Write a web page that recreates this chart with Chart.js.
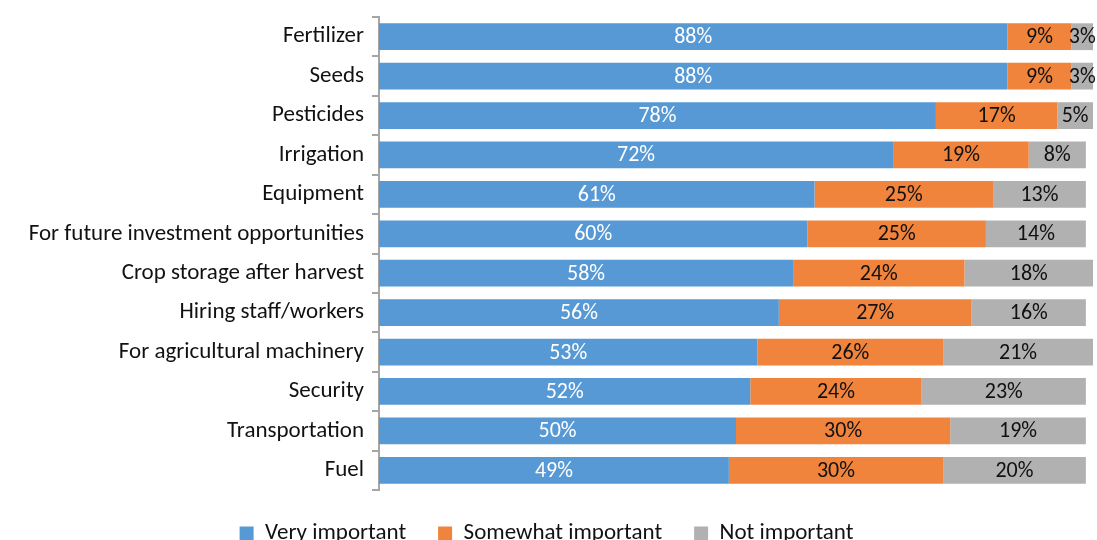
<!DOCTYPE html>
<html>
<head>
<meta charset="utf-8">
<script src="https://cdn.jsdelivr.net/npm/chart.js@4"></script>
<style>
  html, body { margin: 0; padding: 0; background: #fff; overflow: hidden; }
  #wrap { width: 1097px; height: 555px; }
</style>
</head>
<body>
<div id="wrap"><canvas id="needsChart"></canvas></div>
<script>
const categories = [
  "Fertilizer",
  "Seeds",
  "Pesticides",
  "Irrigation",
  "Equipment",
  "For future investment opportunities",
  "Crop storage after harvest",
  "Hiring staff/workers",
  "For agricultural machinery",
  "Security",
  "Transportation",
  "Fuel",
];
const veryImportant = [88, 88, 78, 72, 61, 60, 58, 56, 53, 52, 50, 49];
const somewhatImportant = [9, 9, 17, 19, 25, 25, 24, 27, 26, 24, 30, 30];
const notImportant = [3, 3, 5, 8, 13, 14, 18, 16, 21, 23, 19, 20];

const FONT = "Carlito, Lato, 'Open Sans', sans-serif";

// writes each segment's value in the middle of its bar
const segmentLabels = {
  id: "segmentLabels",
  afterDatasetsDraw(chart) {
    const ctx = chart.ctx;
    ctx.save();
    ctx.font = "22px " + FONT;
    ctx.textAlign = "center";
    ctx.textBaseline = "middle";
    chart.data.datasets.forEach((ds, i) => {
      const meta = chart.getDatasetMeta(i);
      meta.data.forEach((bar, j) => {
        const x = (bar.x + bar.base) / 2;
        ctx.fillStyle = i === 0 ? "#ffffff" : "#111111";
        ctx.fillText(ds.data[j] + "%", x, bar.y + 1);
      });
    });
    ctx.restore();
  },
};

new Chart(document.getElementById("needsChart"), {
  type: "bar",
  data: {
    labels: categories,
    datasets: [
      { label: "Very important", data: veryImportant, backgroundColor: "#5799d4" },
      { label: "Somewhat important", data: somewhatImportant, backgroundColor: "#f0843d" },
      { label: "Not important", data: notImportant, backgroundColor: "#b1b1b2" },
    ],
  },
  plugins: [segmentLabels],
  options: {
    indexAxis: "y",
    responsive: true,
    maintainAspectRatio: false,
    animation: false,
    layout: { padding: { top: 17, right: 4, left: 0, bottom: 0 } },
    datasets: {
      bar: { categoryPercentage: 1, barPercentage: 0.68, borderWidth: 0 },
    },
    plugins: {
      tooltip: { enabled: false },
      legend: {
        position: "bottom",
        labels: {
          font: { family: FONT, size: 23 },
          color: "#111",
          boxWidth: 14,
          boxHeight: 14,
          padding: 32,
        },
      },
    },
    scales: {
      x: { stacked: true, display: false, min: 0, max: 100 },
      y: {
        stacked: true,
        afterFit(scale) {
          scale.width = 379;
          scale.paddingTop = 0;
          scale.paddingBottom = 0;
        },
        grid: {
          drawOnChartArea: false,
          drawTicks: true,
          tickLength: 7,
          color: "#a6a6a6",
          lineWidth: 2,
        },
        border: { color: "#a6a6a6", width: 2 },
        ticks: {
          font: { family: FONT, size: 23 },
          color: "#111",
          padding: 8,
        },
      },
    },
  },
});
</script>
</body>
</html>
